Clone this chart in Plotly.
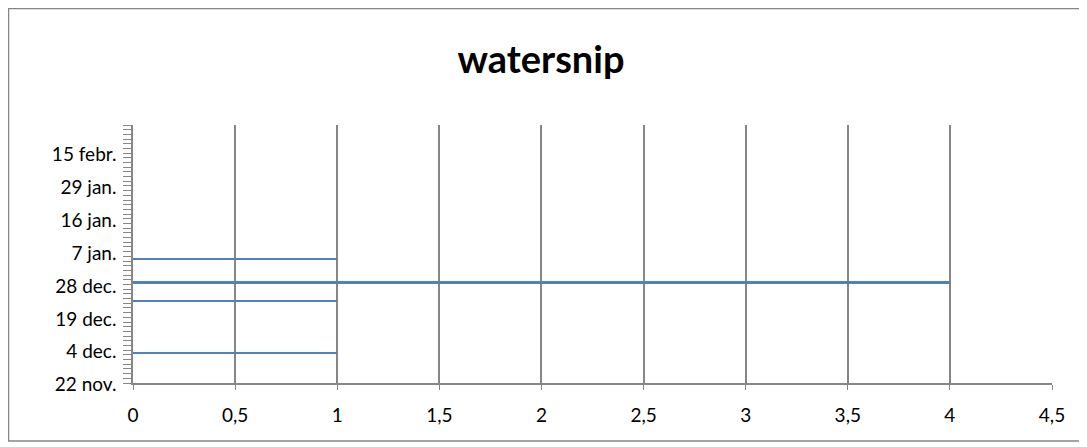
import plotly.graph_objects as go

# ---- data ----
title_text = "watersnip"
date_labels = ["22 nov.", "4 dec.", "19 dec.", "28 dec.", "7 jan.", "16 jan.", "29 jan.", "15 febr."]
n_categories = 55          # observation slots on the category axis
label_step = 7             # one date label every 7 slots
obs_index = [6, 17, 21, 26]   # slot of each observation (0 = bottom)
counts = [1, 1, 4, 1]
x_max = 4.5
x_step = 0.5

label_positions = [i * label_step for i in range(len(date_labels))]

# page body has an 8px margin, so the figure sits at (8, 8) in the window
W, H = 1079, 439
ml, mr, mt, mb = 125, 35, 117, 64
grey = "#868686"
blue = "#4f81bd"
font_family = "Lato, 'Open Sans', sans-serif"

fig = go.Figure()
fig.add_trace(go.Bar(
    x=counts, y=obs_index, orientation="h", width=0.4,
    marker=dict(color=blue, line=dict(width=0)),
    showlegend=False, hoverinfo="x+y",
))

fig.update_layout(
    width=W, height=H,
    margin=dict(l=ml, r=mr, t=mt, b=mb),
    paper_bgcolor="white", plot_bgcolor="white",
    separators=", ",
    font=dict(family=font_family, size=19, color="black"),
    title=dict(text="<b>" + title_text + "</b>", x=533 / W, xref="container", xanchor="center",
               y=1 - 52 / H, yref="container", yanchor="middle",
               font=dict(size=38, family=font_family, color="black")),
    bargap=0,
)

fig.update_xaxes(
    range=[0, x_max], tick0=0, dtick=x_step, tickmode="linear",
    showgrid=True, gridcolor=grey, gridwidth=1.5,
    zeroline=False, showline=True, linecolor=grey, linewidth=1.5,
    ticks="outside", ticklen=5, tickcolor=grey, tickwidth=1,
    ticklabelstandoff=9,
    tickfont=dict(size=19, color="black"),
)

fig.update_yaxes(
    range=[-0.5, n_categories - 0.5],
    tickmode="array", tickvals=label_positions, ticktext=date_labels,
    showgrid=False, zeroline=False,
    showline=True, linecolor=grey, linewidth=1.5,
    ticks="outside", ticklen=8, tickcolor="rgba(0,0,0,0)",
    ticklabelstandoff=3, ticklabelshift=4,
    minor=dict(tickmode="linear", tick0=-0.5, dtick=1, ticks="outside",
               ticklen=8, tickcolor=grey, tickwidth=1, showgrid=False),
    tickfont=dict(size=19, color="black"),
)

# outer chart border (window coords 7..1080 x 7..441, shifted by the 8px body margin)
x0, x1 = 0.5, 1072
y0, y1 = 0.5, 433
pw, ph = W - ml - mr, H - mt - mb
fig.add_shape(
    type="rect", xref="paper", yref="paper",
    x0=(x0 - ml) / pw, x1=(x1 - ml) / pw,
    y0=(H - mb - y1) / ph, y1=(H - mb - y0) / ph,
    line=dict(color=grey, width=1.5), fillcolor="rgba(0,0,0,0)", layer="below",
)

fig.write_html("out.html")
